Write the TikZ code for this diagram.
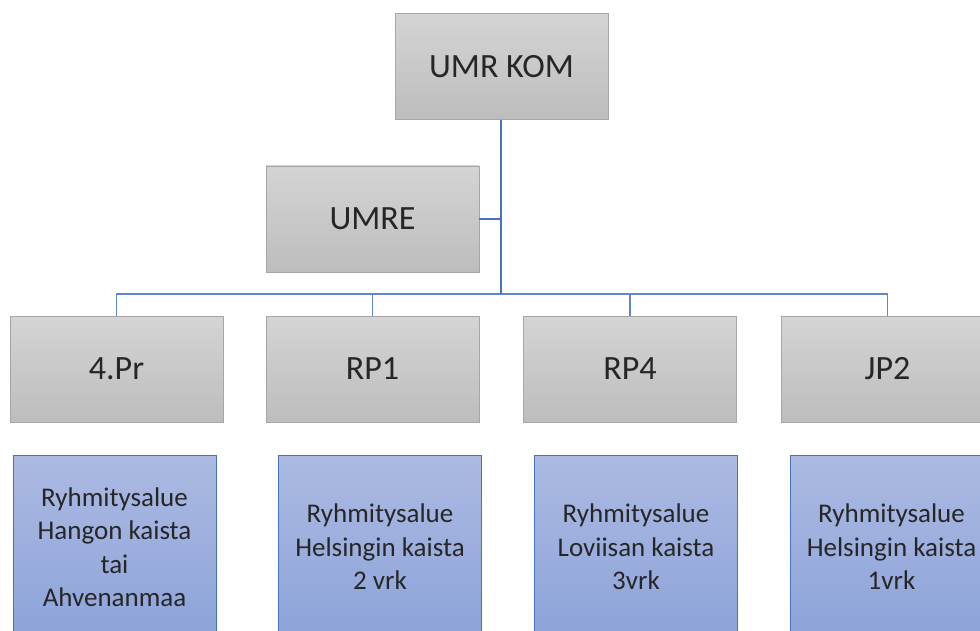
\documentclass[tikz,border=0pt]{standalone}
\usepackage{fontspec}
\setmainfont{Carlito}
\definecolor{boxgraytop}{HTML}{D4D4D4}
\definecolor{boxgraybot}{HTML}{BDBDBD}
\definecolor{boxgrayline}{HTML}{A6A6A6}
\definecolor{boxbluetop}{HTML}{ACBAE2}
\definecolor{boxbluebot}{HTML}{8CA3D9}
\definecolor{linkblue}{HTML}{4472C4}
\definecolor{textdark}{HTML}{262626}

\begin{document}
\begin{tikzpicture}[x=1pt,y=-1pt,
		unit/.style={draw=boxgrayline,line width=0.9pt,top color=boxgraytop,bottom color=boxgraybot,
			minimum width=213pt,minimum height=106pt,inner sep=0pt,text=textdark,
			font=\fontsize{34}{40}\selectfont},
		area/.style={draw=linkblue,line width=0.9pt,top color=boxbluetop,bottom color=boxbluebot,
			minimum width=203pt,minimum height=184pt,inner sep=0pt,text=textdark,align=center,
			font=\fontsize{27}{33.5}\selectfont},
		link/.style={draw=linkblue,line width=1.8pt},
		sublink/.style={draw=linkblue!85,line width=1.4pt}]
		\useasboundingbox (0,0) rectangle (980,631);
		\clip (0,0) rectangle (980,631);
		% command level
		\node[unit] (umr) at (501.5,66.5) {UMR KOM};
		\node[unit] (umre) at (372.5,219) {UMRE};
		% units
		\node[unit] (pr4) at (116.5,369) {4.Pr};
		\node[unit] (rp1) at (372.5,369) {RP1};
		\node[unit] (rp4) at (630,369) {RP4};
		\node[unit] (jp2) at (887.5,369) {JP2};
		% assembly areas
		\node[area] (pr4area) at (114.5,547) {Ryhmitysalue\\Hangon kaista\\tai\\Ahvenanmaa};
		\node[area] (rp1area) at (380,547) {Ryhmitysalue\\Helsingin kaista\\2 vrk};
		\node[area] (rp4area) at (636,547) {Ryhmitysalue\\Loviisan kaista\\3vrk};
		\node[area] (jp2area) at (891.5,547) {Ryhmitysalue\\Helsingin kaista\\1vrk};
		% connectors
		\coordinate (bus) at (501,294);
		\draw[sublink] (bus) -| (pr4.north);
		\draw[sublink] (bus) -| (rp1.north);
		\draw[sublink] (bus) -| (rp4.north);
		\draw[sublink] (bus) -| (jp2.north);
		\draw[link] (umr.south -| bus) -- (bus);
		\draw[link] (umre.east) -- (umre.east -| bus);
	\end{tikzpicture}
\end{document}
